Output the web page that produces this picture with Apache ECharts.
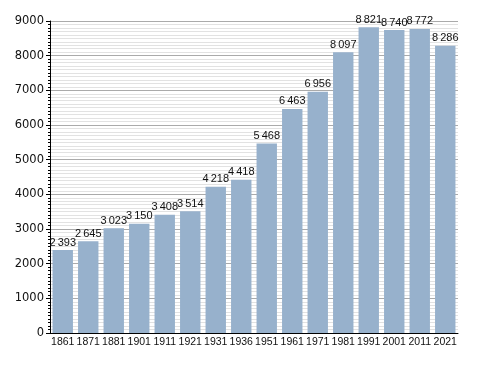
<!DOCTYPE html>
<html><head><meta charset="utf-8">
<script src="https://cdn.jsdelivr.net/npm/echarts@6/dist/echarts.min.js"></script>
<style>html,body{margin:0;padding:0;background:#fff}#c{width:488px;height:373px}</style>
</head><body><div id="c"></div>
<script>
const years = ['1861','1871','1881','1901','1911','1921','1931','1936','1951','1961','1971','1981','1991','2001','2011','2021'];
const population = [2393,2645,3023,3150,3408,3514,4218,4418,5468,6463,6956,8097,8821,8740,8772,8286];
const yTicks = {min:0, max:9000, interval:1000};

function fmt(v){ const s=String(v); return s.length>3 ? s.slice(0,-3)+'\u2009'+s.slice(-3) : s; }

const chart = echarts.init(document.getElementById('c'), null, {renderer:'canvas'});
chart.setOption({
  animation:false,
  backgroundColor:'#fff',
  textStyle:{fontFamily:'Liberation Sans'},
  grid:{left:50,right:30,top:21,bottom:40,containLabel:false},
  xAxis:{type:'category',data:years,
    axisLine:{lineStyle:{color:'#000',width:1}},
    axisTick:{show:false},
    axisLabel:{color:'#111',fontSize:10.5,margin:4,interval:0,fontFamily:'Liberation Sans'}},
  yAxis:{type:'value',min:yTicks.min,max:yTicks.max,interval:yTicks.interval,
    axisLine:{show:true,lineStyle:{color:'#000',width:1}},
    axisTick:{show:true,length:4,lineStyle:{color:'#000'}},
    minorTick:{show:true,splitNumber:10,length:2,lineStyle:{color:'#000'}},
    splitLine:{show:true,lineStyle:{color:'#aaaaaa',width:1}},
    minorSplitLine:{show:true,lineStyle:{color:'#e2e2e2',width:1}},
    axisLabel:{color:'#111',fontSize:11.5,margin:6,fontFamily:'DejaVu Sans',formatter:v=>String(v)}},
  series:[{type:'bar',data:population,barCategoryGap:'20%',
    itemStyle:{color:'#97b1cc'},
    label:{show:true,position:'top',distance:2,color:'#111',fontSize:11,fontFamily:'Liberation Sans',
      formatter:p=>fmt(p.value)}}]
});
</script></body></html>
